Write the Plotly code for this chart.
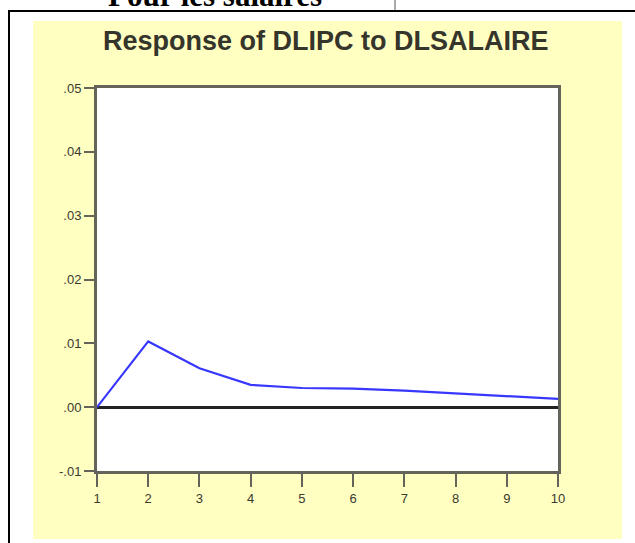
import plotly.graph_objects as go

# Data
periods = [1, 2, 3, 4, 5, 6, 7, 8, 9, 10]
response = [0.0000, 0.0103, 0.0061, 0.0035, 0.0030, 0.0029, 0.0026, 0.0022, 0.0017, 0.0013]
y_tick_vals = [-0.01, 0.0, 0.01, 0.02, 0.03, 0.04, 0.05]
y_tick_text = ["-.01", ".00", ".01", ".02", ".03", ".04", ".05"]
x_tick_vals = [1, 2, 3, 4, 5, 6, 7, 8, 9, 10]
x_tick_text = ["1", "2", "3", "4", "5", "6", "7", "8", "9", "10"]
title_text = "Response of DLIPC to DLSALAIRE"
heading_text = "Pour les salaires"

W, H = 635, 543
L, R, T, B = 97, 558, 88, 471
pw, ph = R - L, B - T

def px(x):
    return (x - L) / pw

def py(y):
    return (B - y) / ph

fig = go.Figure()
fig.add_trace(go.Scatter(
    x=periods, y=response, mode="lines",
    line=dict(color="rgb(55,55,255)", width=2.2),
    hoverinfo="skip", showlegend=False,
))

axis_line = "rgb(100,100,90)"
tick_font = dict(family="Liberation Sans, Arial", size=13, color="#3a3a2e")
fig.update_layout(
    width=W, height=H,
    margin=dict(l=L, r=W - R, t=T, b=H - B, pad=0),
    paper_bgcolor="white",
    plot_bgcolor="rgba(0,0,0,0)",
    showlegend=False,
    xaxis=dict(
        range=[1, 10], tickmode="array", tickvals=x_tick_vals, ticktext=x_tick_text,
        showgrid=False, zeroline=False, showline=True, mirror=True,
        linecolor=axis_line, linewidth=3,
        ticks="outside", ticklen=13, tickwidth=2, tickcolor=axis_line,
        tickfont=tick_font, fixedrange=True,
    ),
    yaxis=dict(
        range=[-0.01, 0.05], tickmode="array", tickvals=y_tick_vals, ticktext=y_tick_text,
        showgrid=False, zeroline=True, zerolinecolor="#222", zerolinewidth=2.5,
        showline=True, mirror=True, linecolor=axis_line, linewidth=3,
        ticks="outside", ticklen=10, tickwidth=2, tickcolor=axis_line,
        tickfont=tick_font, fixedrange=True,
    ),
    shapes=[
        # outer frame
        dict(type="rect", xref="paper", yref="paper",
             x0=px(9), x1=px(660), y0=py(560), y1=py(11),
             line=dict(color="black", width=2), fillcolor="rgba(0,0,0,0)", layer="below"),
        # small divider above frame
        dict(type="line", xref="paper", yref="paper",
             x0=px(395), x1=px(395), y0=py(0), y1=py(10),
             line=dict(color="#555", width=1), layer="below"),
        # yellow chart background
        dict(type="rect", xref="paper", yref="paper",
             x0=px(33), x1=px(622), y0=py(539), y1=py(21),
             line=dict(width=0), fillcolor="#FFFFC2", layer="below"),
        # white plot area
        dict(type="rect", xref="paper", yref="paper",
             x0=0, x1=1, y0=0, y1=1,
             line=dict(width=0), fillcolor="white", layer="below"),
    ],
    annotations=[
        dict(text=title_text, xref="paper", yref="paper", x=px(325.5), y=py(41),
             xanchor="center", yanchor="middle", showarrow=False,
             font=dict(family="Liberation Sans, Arial", size=27, color="#35352b", weight="bold")),
        dict(text="\u2022", xref="paper", yref="paper", x=px(66), y=py(-4),
             xanchor="center", yanchor="middle", showarrow=False,
             font=dict(family="Liberation Serif, Times New Roman", size=28, color="black")),
        dict(text="<b>" + heading_text + "</b>", xref="paper", yref="paper", x=px(106), y=py(-4),
             xanchor="left", yanchor="middle", showarrow=False,
             font=dict(family="Liberation Serif, Times New Roman", size=31, color="black")),
    ],
)

fig.write_html("out.html", config={"displayModeBar": False},
               post_script="document.body.style.margin='0';")
